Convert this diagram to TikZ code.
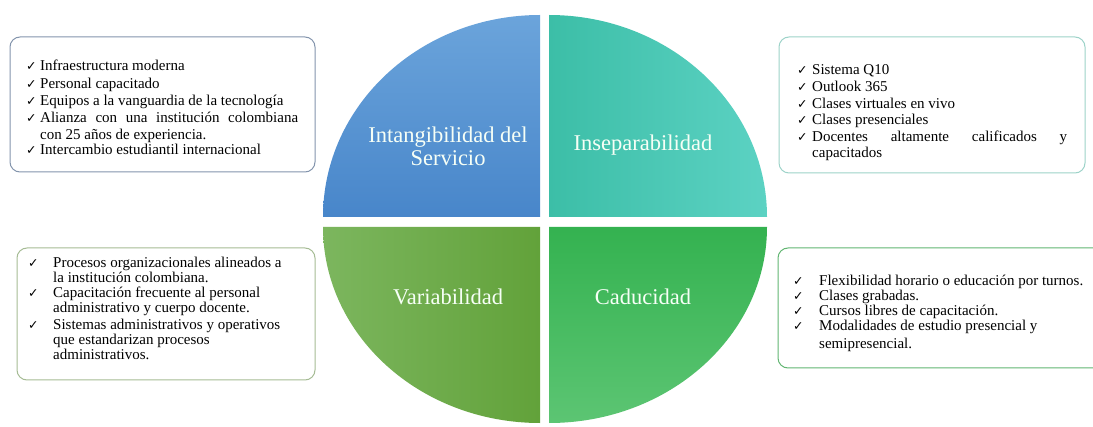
\documentclass[tikz,border=0pt]{standalone}
\usepackage{fontspec}
\setmainfont{Liberation Serif}
\newfontfamily\symf{DejaVu Sans}
\definecolor{blueTop}{HTML}{6BA4DB}
\definecolor{blueBot}{HTML}{4886CA}
\definecolor{tealL}{HTML}{3CBEA7}
\definecolor{tealR}{HTML}{5CD2C3}
\definecolor{grnL}{HTML}{7CB65E}
\definecolor{grnR}{HTML}{62A23A}
\definecolor{gTop}{HTML}{34B250}
\definecolor{gBot}{HTML}{5CC573}
\definecolor{bd1}{HTML}{8495AD}
\definecolor{bd2}{HTML}{9DD3C9}
\definecolor{bd3}{HTML}{A6BC95}
\definecolor{bd4}{HTML}{62B672}
\definecolor{lbl}{HTML}{F6FFF6}
\newcommand\chk{{\symf\fontsize{12.5}{12.5}\selectfont ✓}}
\newcommand\citem[3]{\par\noindent\makebox[#1][l]{\chk}\parbox[t]{#2}{\raggedright #3}\par}
\tikzset{
  infobox/.style={draw=#1, line width=1pt, rounded corners=10pt, fill=white},
  qlabel/.style={text=lbl, font=\fontsize{22.5}{23}\selectfont, align=center, inner sep=0pt},
  listtext/.style={anchor=base west, inner sep=0pt, text=black}
}
\begin{document}
\begin{tikzpicture}[x=1pt,y=1pt]
\useasboundingbox (0,0) rectangle (1093,426);
\fill[white] (0,0) rectangle (1093,426);
% quadrants
\shade[top color=blueTop, bottom color=blueBot]
  (540,209) -- (323,209) arc[start angle=180, end angle=90, x radius=217pt, y radius=202pt] -- cycle;
\shade[left color=tealL, right color=tealR]
  (549,209) -- (549,411) arc[start angle=90, end angle=0, x radius=218pt, y radius=202pt] -- cycle;
\shade[left color=grnL, right color=grnR]
  (540,199) -- (323,199) arc[start angle=180, end angle=270, x radius=217pt, y radius=196pt] -- cycle;
\shade[top color=gTop, bottom color=gBot]
  (549,199) -- (767,199) arc[start angle=0, end angle=-90, x radius=218pt, y radius=196pt] -- cycle;
% quadrant labels
\node[qlabel] (q1) at (448,280) {Intangibilidad del\\Servicio};
\node[qlabel] (q2) at (643,281) {Inseparabilidad};
\node[qlabel] (q3) at (448,129) {Variabilidad};
\node[qlabel] (q4) at (643,129) {Caducidad};
% boxes
\draw[infobox=bd1] (10,254) rectangle (315,389);
\draw[infobox=bd2] (779,253) rectangle (1085,389);
\draw[infobox=bd3] (17,46) rectangle (315,178);
\draw[infobox=bd4] (778,58) rectangle (1110,178);
% box 1 text
\node[listtext] (t1) at (26,355) {\parbox[t]{290pt}{\fontsize{15}{17.2}\selectfont
  \citem{14pt}{258pt}{Infraestructura moderna}
  \citem{14pt}{258pt}{Personal capacitado}
  \citem{14pt}{258pt}{Equipos a la vanguardia de la tecnología}
  \citem{14pt}{258pt}{\hbox to\linewidth{Alianza con una institución colombiana}\par con 25 años de experiencia.}
  \citem{14pt}{258pt}{Intercambio estudiantil internacional}}};
% box 2 text
\node[listtext] (t2) at (797,351) {\parbox[t]{280pt}{\fontsize{15}{16.6}\selectfont
  \citem{15pt}{255pt}{Sistema Q10}
  \citem{15pt}{255pt}{Outlook 365}
  \citem{15pt}{255pt}{Clases virtuales en vivo}
  \citem{15pt}{255pt}{Clases presenciales}
  \citem{15pt}{255pt}{\hbox to\linewidth{Docentes altamente calificados y}\par capacitados}}};
% box 3 text
\node[listtext] (t3) at (28,158) {\parbox[t]{290pt}{\fontsize{15}{15}\selectfont\setlength{\parskip}{2.5pt}
  \citem{25pt}{255pt}{Procesos organizacionales alineados a\\ la institución colombiana.}
  \citem{25pt}{255pt}{Capacitación frecuente al personal\\ administrativo y cuerpo docente.}
  \citem{25pt}{255pt}{Sistemas administrativos y operativos\\ que estandarizan procesos\\ administrativos.}}};
% box 4 text
\node[listtext] (t4) at (793,140) {\parbox[t]{300pt}{\fontsize{15}{14.7}\selectfont
  \citem{26pt}{270pt}{Flexibilidad horario o educación por turnos.}
  \citem{26pt}{270pt}{Clases grabadas.}
  \citem{26pt}{270pt}{Cursos libres de capacitación.}
  \citem{26pt}{270pt}{Modalidades de estudio presencial y\\[4pt] semipresencial.}}};
\end{tikzpicture}
\end{document}
